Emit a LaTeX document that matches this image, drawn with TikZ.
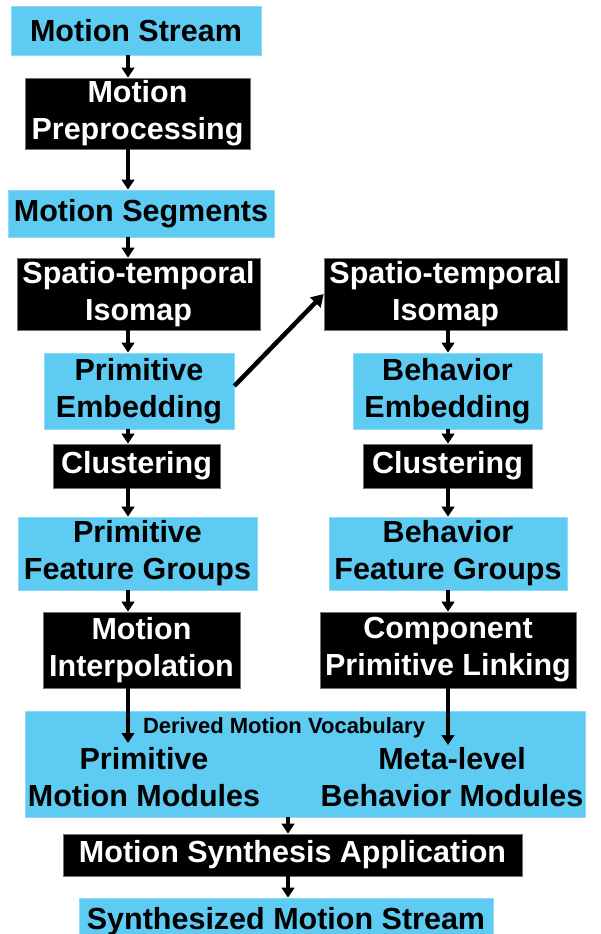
\documentclass[tikz,border=0pt]{standalone}
\usepackage{fontspec}
\setmainfont{Liberation Sans}
\usetikzlibrary{arrows.meta}
\definecolor{boxcyan}{RGB}{93,203,242}
\begin{document}
\begin{tikzpicture}[x=1pt,y=-1pt,
  every node/.style={font=\fontsize{30.5}{37}\selectfont\bfseries, align=center, inner sep=0pt},
  cbox/.style={fill=boxcyan, draw=boxcyan!70!white, line width=0.6pt, text=black},
  kbox/.style={fill=black, draw=black!55, line width=0.6pt, text=white},
  smalltext/.style={font=\fontsize{22}{26}\selectfont\bfseries, text=black},
  arr/.style={line width=3.2pt, -{Triangle[width=12.5pt,length=10pt]}},
  bigarr/.style={line width=4.5pt, -{Triangle[width=14pt,length=12pt]}}]
\useasboundingbox (0,0) rectangle (601,934);
\coordinate (L) at (128,0);
\coordinate (R) at (448,0);
\coordinate (C) at (288,0);
% left column
\node[cbox, minimum width=250pt, minimum height=49pt] (ms) at (136,30.5) {Motion Stream};
\node[kbox, minimum width=225pt, minimum height=71pt] (mp) at (137.5,113.5) {Motion\\Preprocessing};
\node[cbox, minimum width=266pt, minimum height=47pt] (mseg) at (141,213.5) {Motion Segments};
\node[kbox, minimum width=243pt, minimum height=72pt] (sti1) at (138.5,294) {Spatio-temporal\\Isomap};
\node[cbox, minimum width=190pt, minimum height=76pt] (pe) at (139,391) {Primitive\\Embedding};
\node[kbox, minimum width=167pt, minimum height=44pt] (cl1) at (136.5,466) {Clustering};
\node[cbox, minimum width=239pt, minimum height=73pt] (pfg) at (137.5,553.5) {Primitive\\Feature Groups};
\node[kbox, minimum width=197pt, minimum height=76pt] (mi) at (141.5,650) {Motion\\Interpolation};
% right column
\node[kbox, minimum width=243pt, minimum height=72pt] (sti2) at (445.5,294) {Spatio-temporal\\Isomap};
\node[cbox, minimum width=189pt, minimum height=76pt] (be) at (447.5,391) {Behavior\\Embedding};
\node[kbox, minimum width=169pt, minimum height=44pt] (cl2) at (447.5,466) {Clustering};
\node[cbox, minimum width=238pt, minimum height=73pt] (bfg) at (448,553.5) {Behavior\\Feature Groups};
\node[kbox, minimum width=256pt, minimum height=76pt] (cpl) at (448,650) {Component\\Primitive Linking};
% vocabulary
\node[cbox, minimum width=560pt, minimum height=106pt] (vocab) at (305,764) {};
\node[smalltext, anchor=base] (dmv) at (284,733) {Derived Motion Vocabulary};
\node[text=black] (pmm) at (144,777) {Primitive\\Motion Modules};
\node[text=black] (mbm) at (452,777) {Meta-level\\Behavior Modules};
% bottom
\node[kbox, minimum width=459pt, minimum height=42pt] (msa) at (292.5,855) {Motion Synthesis Application};
\node[cbox, minimum width=414pt, minimum height=47pt] (sms) at (286,921.5) {Synthesized Motion Stream};
\coordinate (vL) at (128,743);
\coordinate (vR) at (448,745);
% arrows
\draw[arr] (ms.south -| L) -- (mp.north -| L);
\draw[arr] (mp.south -| L) -- (mseg.north -| L);
\draw[arr] (mseg.south -| L) -- (sti1.north -| L);
\draw[arr] (sti1.south -| L) -- (pe.north -| L);
\draw[arr] (pe.south -| L) -- (cl1.north -| L);
\draw[arr] (cl1.south -| L) -- (pfg.north -| L);
\draw[arr] (pfg.south -| L) -- (mi.north -| L);
\draw[arr] (mi.south -| L) -- (vL);
\draw[arr] (sti2.south -| R) -- (be.north -| R);
\draw[arr] (be.south -| R) -- (cl2.north -| R);
\draw[arr] (cl2.south -| R) -- (bfg.north -| R);
\draw[arr] (bfg.south -| R) -- (cpl.north -| R);
\draw[arr] (cpl.south -| R) -- (vR);
\draw[arr] (vocab.south -| C) -- (msa.north -| C);
\draw[arr] (msa.south -| C) -- (sms.north -| C);
\draw[bigarr] ([yshift=5pt]pe.east) -- (sti2.west);
\end{tikzpicture}
\end{document}
